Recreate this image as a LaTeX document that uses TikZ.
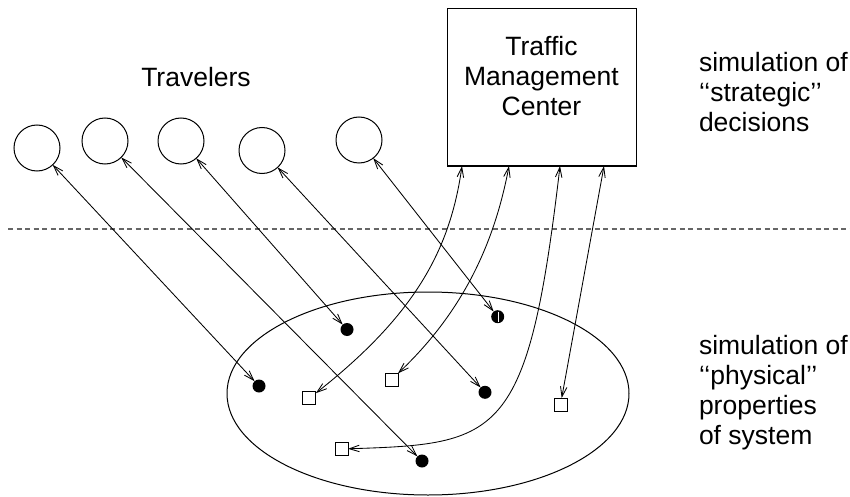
\documentclass[tikz,border=0pt]{standalone}
\usepackage{fontspec}
\setmainfont{Liberation Sans}
\usetikzlibrary{arrows.meta,shapes.geometric}
\begin{document}
\begin{tikzpicture}[x=1pt,y=-1pt,
  every node/.style={inner sep=0pt, outer sep=0pt},
  traveler/.style={circle,draw,line width=1pt,minimum size=46pt},
  agent/.style={circle,fill=black,minimum size=13pt},
  sensor/.style={rectangle,draw,line width=0.9pt,minimum size=13pt},
  link/.style={line width=0.85pt,{Straight Barb[length=10pt,width=6.5pt]}-{Straight Barb[length=10pt,width=6.5pt]}},
  txt/.style={font=\fontsize{26.5}{30}\selectfont, align=left},
  divider/.style={draw=black!60, line width=1.1pt, dash pattern=on 5pt off 3.5pt}
]
\useasboundingbox (0,0) rectangle (850,497);

% region of physical simulation
\node[ellipse, draw, line width=1pt, minimum width=402pt, minimum height=203pt] (region) at (428,393.5) {};

% travelers
\node[traveler] (t1) at (37,148) {};
\node[traveler] (t2) at (105,141) {};
\node[traveler] (t3) at (181,141) {};
\node[traveler] (t4) at (262,150.5) {};
\node[traveler] (t5) at (359,140) {};
\node[txt, anchor=base] (trav) at (196,86.7) {Travelers};

% traffic management center
\node[draw, line width=1pt, minimum width=189pt, minimum height=157pt] (tmc) at (541.5,87.5) {};
\node[txt, align=center, anchor=north] (tmclabel) at (541.5,36) {Traffic\\Management\\Center};

% right labels
\node[txt, anchor=north west] (strat) at (699,52.7) {simulation of\\{`}{`}strategic{'}{'}\\decisions};
\node[txt, anchor=north west] (phys) at (699,335) {simulation of\\{`}{`}physical{'}{'}\\properties\\of system};

% divider
\coordinate (dl) at (8,229);
\coordinate (dr) at (850,229);
\draw[divider] (dl) -- (dr);

% agents (vehicles)
\node[agent] (dA) at (259,386) {};
\node[agent] (dB) at (347,329.5) {};
\node[agent] (dC) at (497.7,316.7) {};
\node[agent] (dD) at (485,392.3) {};
\node[agent] (dE) at (422,461) {};
\draw[white, line width=0.8pt] ([xshift=0.5pt,yshift=5pt]dC.center) -- ([xshift=0.5pt,yshift=-5pt]dC.center);

% sensors
\node[sensor] (sq1) at (309.3,398.3) {};
\node[sensor] (sq2) at (391.5,379.5) {};
\node[sensor] (sq3) at (560.5,404.5) {};
\node[sensor] (sq4) at (341.5,449) {};

% links travelers <-> agents
\draw[link] (t1) -- (dA);
\draw[link] (t2) -- (dE);
\draw[link] (t3) -- (dB);
\draw[link] (t4) -- (dD);
\draw[link] (t5) -- (dC);

% links TMC <-> sensors
\draw[link] ([xshift=15pt]tmc.south west) .. controls (450,250) and (415,315) .. (sq1);
\draw[link] ([xshift=62pt]tmc.south west) .. controls (495,240) and (465,310) .. (sq2);
\draw[link] ([xshift=113pt]tmc.south west) .. controls (528,440) and (500,444) .. (sq4);
\draw[link] ([xshift=157pt]tmc.south west) -- (sq3);
\end{tikzpicture}
\end{document}
